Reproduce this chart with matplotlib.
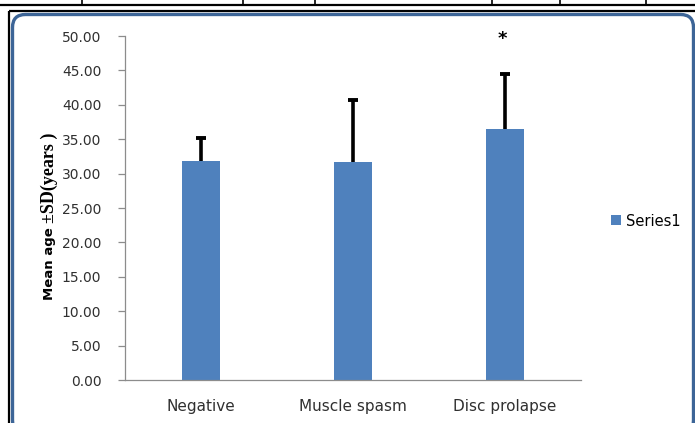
import matplotlib
matplotlib.use('Agg')
import matplotlib.pyplot as plt
from matplotlib.patches import FancyBboxPatch
from matplotlib.lines import Line2D
from matplotlib.transforms import IdentityTransform

categories = ['Negative', 'Muscle spasm', 'Disc prolapse']
means = [31.9, 31.7, 36.5]   # mean age per group
sds = [3.3, 9.0, 8.0]        # standard deviation (upper bar only)
yticks = [0, 5, 10, 15, 20, 25, 30, 35, 40, 45, 50]
star_group = 'Disc prolapse'
star_y = 49.6

W, H = 695, 423
fig = plt.figure(figsize=(W / 100, H / 100), dpi=100)
fig.patch.set_facecolor('white')

# table borders around the embedded chart (pixel coords, origin bottom-left)
def px_line(x0, y0, x1, y1, lw=1.6):
    fig.add_artist(Line2D([x0, x1], [H - y0, H - y1], transform=IdentityTransform(),
                          color='black', lw=lw, solid_capstyle='butt'))

px_line(0, 4.5, W, 4.5)
for vx in [82, 243, 315, 492, 560, 646]:
    px_line(vx, 0, vx, 4.5, lw=1.2)
px_line(8.5, 10.5, W, 10.5)
px_line(8.5, 10.5, 8.5, H)

# rounded chart frame
frame = FancyBboxPatch((12.5, -10), 681, H - 14.5 + 10, boxstyle='round,pad=0,rounding_size=13',
                       transform=IdentityTransform(), facecolor='none', edgecolor='#3d6597', lw=2.4)
fig.add_artist(frame)

ax = fig.add_axes([125 / W, 1 - 380 / H, 456 / W, 344 / H])
x = list(range(len(categories)))
tops = [m + s for m, s in zip(means, sds)]
ax.bar(x, means, width=0.25, color='#4f81bd', label='Series1', zorder=2)
# plus-only error bars
ax.vlines(x, means, tops, color='black', lw=2.6, zorder=3)
ax.hlines(tops, [i - 0.03 for i in x], [i + 0.03 for i in x], color='black', lw=2.8, zorder=3)

ax.set_xlim(-0.5, len(categories) - 0.5)
ax.set_ylim(0, 50)
ax.set_yticks(yticks)
ax.set_yticklabels(['%.2f' % v for v in yticks], fontsize=10, color='#303030')
ax.set_xticks(x)
ax.set_xticklabels(categories, fontsize=11, color='#303030')
ax.tick_params(axis='x', length=0, pad=14)
ax.tick_params(axis='y', length=5, width=0.9, color='#8c8c8c', pad=12)
for s in ['top', 'right']:
    ax.spines[s].set_visible(False)
for s in ['left', 'bottom']:
    ax.spines[s].set_color('#8c8c8c')
    ax.spines[s].set_linewidth(0.9)

ax.text(categories.index(star_group) - 0.02, star_y, '*', ha='center', va='center',
        fontsize=13, fontweight='bold')

# y label: sans "Mean age" + serif "±SD(years)"
ylab_x = 49 / W
ylab_mid = 1 - 223 / H
fig.text(ylab_x, ylab_mid, 'Mean age ', rotation=90, ha='center', va='top',
         fontsize=9.5, fontweight='bold', family='DejaVu Sans')
fig.text(ylab_x, ylab_mid, '±SD(years )', rotation=90, ha='center', va='bottom',
         fontsize=13, fontweight='bold', family='Liberation Serif')

fig.legend(loc='center left', bbox_to_anchor=(611 / W, 1 - 221 / H), frameon=False,
           fontsize=10.5, handlelength=0.7, handleheight=0.7, handletextpad=0.35,
           borderpad=0, borderaxespad=0)

fig.savefig('out.png', dpi=100)
